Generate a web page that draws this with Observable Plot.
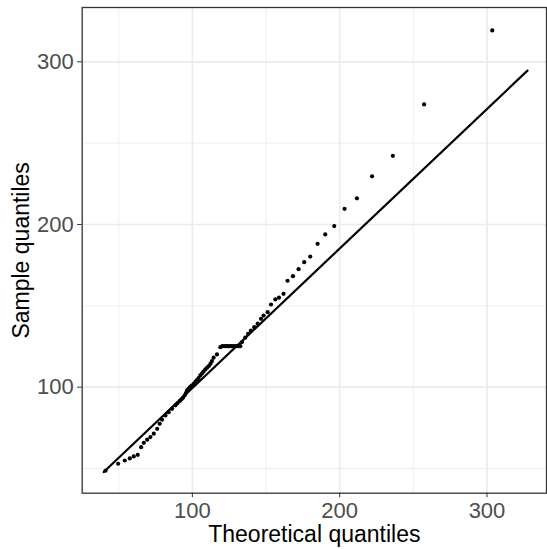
<!DOCTYPE html>
<html>
<head>
<meta charset="utf-8">
<script src="https://cdn.jsdelivr.net/npm/d3@7"></script>
<script src="https://cdn.jsdelivr.net/npm/@observablehq/plot@0.6"></script>
<style>
  html, body { margin: 0; padding: 0; background: #fff; }
  #chart svg { display: block; }
  g[aria-label="x-axis tick label"], g[aria-label="y-axis tick label"] { fill: #4D4D4D; }
</style>
</head>
<body>
<div id="chart"></div>
<script>
// Theoretical vs sample quantiles
const theoretical = [41.0, 49.6, 54.1, 57.5, 60.2, 62.9, 65.2, 67.0, 69.3, 71.5, 73.8, 76.1, 77.8, 79.4, 81.7, 83.9, 86.2, 88.5, 90.0, 91.5, 92.6, 93.7, 94.8, 95.6, 96.4, 97.4, 98.4, 99.5, 100.9, 102.0, 103.1, 104.2, 105.4, 106.5, 107.6, 108.8, 110.0, 111.2, 112.3, 113.3, 114.4, 116.7, 119.0, 120.3, 121.6, 122.8, 124.0, 125.3, 126.6, 127.8, 129.0, 130.3, 131.4, 132.5, 133.7, 135.9, 137.8, 139.7, 142.0, 144.3, 146.6, 148.3, 151.1, 153.4, 156.3, 158.8, 161.9, 164.6, 168.3, 172.1, 175.9, 180.0, 185.0, 190.2, 196.3, 203.3, 211.7, 222.0, 236.1, 257.3, 303.6];
const sample = [48.6, 52.9, 54.9, 56.2, 57.4, 58.4, 63.1, 65.8, 67.7, 69.3, 71.4, 74.4, 77.5, 80.0, 82.6, 84.6, 86.7, 88.8, 90.2, 91.5, 92.5, 93.6, 95.0, 96.4, 98.0, 99.0, 100.0, 101.0, 102.0, 103.3, 104.4, 105.6, 107.2, 108.4, 109.6, 110.9, 112.0, 113.0, 114.4, 116.0, 118.1, 120.1, 124.6, 125.2, 125.2, 125.2, 125.2, 125.2, 125.2, 125.2, 125.2, 125.2, 125.2, 125.2, 127.7, 130.4, 132.8, 134.8, 136.9, 139.0, 142.0, 144.0, 146.1, 150.8, 153.9, 155.0, 157.4, 165.4, 168.2, 172.5, 176.8, 180.3, 188.1, 193.9, 199.0, 209.6, 216.1, 229.6, 242.2, 273.8, 319.3];

// Reference line endpoints (qq line)
const lineTheo = [39.8, 327.5];
const lineSample = [47.8, 294.6];

const xTicks = [100, 200, 300];
const yTicks = [100, 200, 300];
const xMinor = [50, 150, 250];
const yMinor = [50, 150, 250];

const xDomain = [25.2, 340.4];
const yDomain = [34.8, 333.4];

const points = theoretical.map((t, i) => ({t, s: sample[i]}));
const qqLine = lineTheo.map((t, i) => ({t, s: lineSample[i]}));

const chart = Plot.plot({
  width: 547,
  height: 549,
  marginLeft: 81.7,
  marginRight: 1,
  marginTop: 7,
  marginBottom: 56.3,
  style: {fontFamily: "'Liberation Sans', Arial, Helvetica, sans-serif", background: "#fff"},
  x: {domain: xDomain, axis: null},
  y: {domain: yDomain, axis: null},
  marks: [
    Plot.ruleX(xMinor, {stroke: "#EBEBEB", strokeWidth: 0.8}),
    Plot.ruleY(yMinor, {stroke: "#EBEBEB", strokeWidth: 0.8}),
    Plot.ruleX(xTicks, {stroke: "#EBEBEB", strokeWidth: 1.6}),
    Plot.ruleY(yTicks, {stroke: "#EBEBEB", strokeWidth: 1.6}),
    Plot.line(qqLine, {x: "t", y: "s", stroke: "#000", strokeWidth: 2.2}),
    Plot.dot(points, {x: "t", y: "s", r: 2.1, fill: "#000", stroke: null}),
    Plot.frame({stroke: "#333333", strokeWidth: 1.3}),
    Plot.axisX(xTicks, {tickSize: 4.5, tickPadding: 4.5, fontSize: 22, label: null, stroke: "#333333", tickFormat: d => String(d)}),
    Plot.axisY(yTicks, {tickSize: 4.5, tickPadding: 4, fontSize: 22, label: null, stroke: "#333333", tickFormat: d => String(d)}),
    Plot.text(["Theoretical quantiles"], {frameAnchor: "bottom", lineAnchor: "middle", textAnchor: "middle", dy: 41.3, fontSize: 23, fill: "#000"}),
    Plot.text(["Sample quantiles"], {frameAnchor: "left", lineAnchor: "middle", textAnchor: "middle", dx: -61, rotate: -90, fontSize: 23, fill: "#000"})
  ]
});
document.getElementById("chart").appendChild(chart);
</script>
</body>
</html>
